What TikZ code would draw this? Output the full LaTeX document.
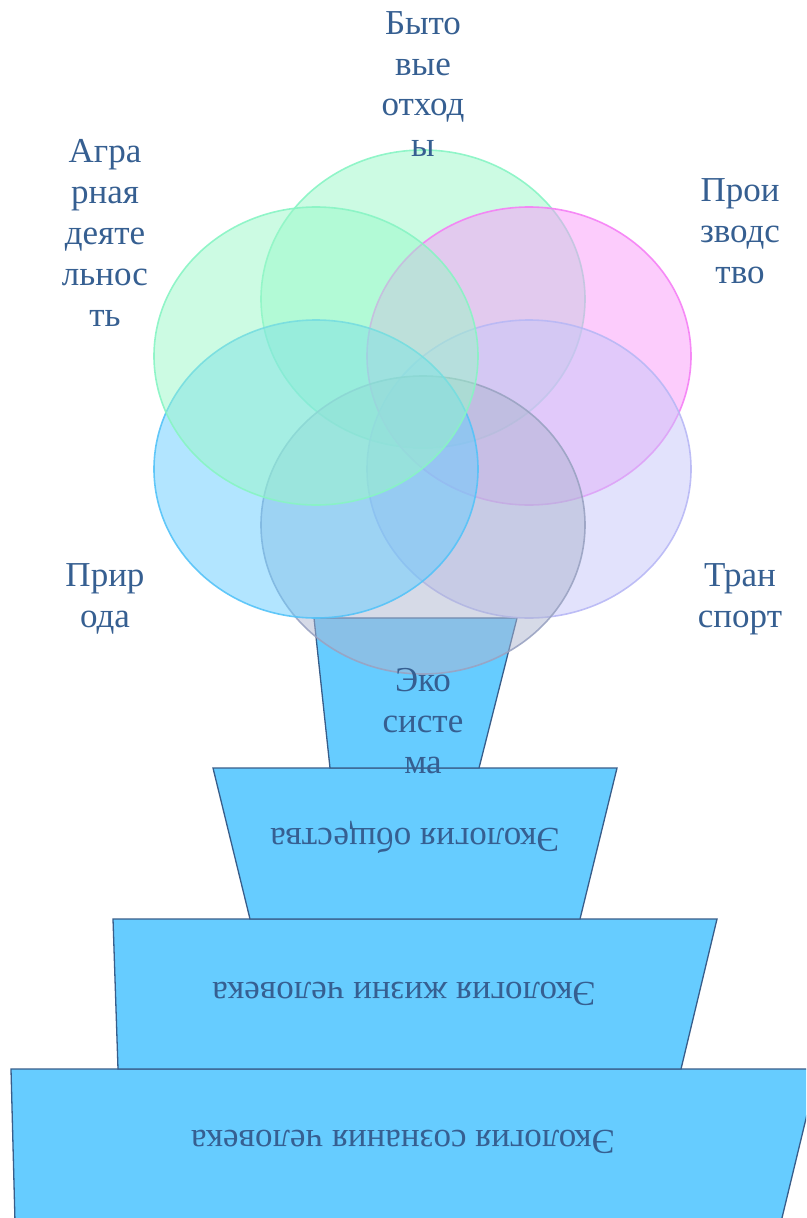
\documentclass[tikz,border=0pt]{standalone}
\usepackage{fontspec}
\setmainfont{Liberation Serif}
\usepackage{tikz}
\usetikzlibrary{shapes.geometric}
\pgfdeclarelayer{edgelayer}
\pgfdeclarelayer{nodelayer}
\pgfsetlayers{edgelayer,nodelayer,main}
\definecolor{inkblue}{HTML}{365F91}
\definecolor{tierfill}{HTML}{66CCFF}
\definecolor{tierline}{HTML}{385D8A}
\definecolor{petalgreen}{HTML}{99F8C8}
\definecolor{petalpink}{HTML}{F999F9}
\definecolor{petallilac}{HTML}{C6C6F9}
\definecolor{petalgrey}{HTML}{ADB5D0}
\definecolor{petalblue}{HTML}{66CCFF}
\definecolor{greenline}{HTML}{88F4C4}
\definecolor{pinkline}{HTML}{F57FF5}
\definecolor{lilacline}{HTML}{B8B8F5}
\definecolor{greyline}{HTML}{9AA3C2}
\definecolor{blueline}{HTML}{55C3F8}
\tikzstyle{none}=[inner sep=0pt]
\tikzstyle{petal}=[ellipse,minimum width=324pt,minimum height=298pt,inner sep=0pt,line width=1.6pt,fill opacity=0.5,draw opacity=0.9]
\tikzstyle{tier}=[fill=tierfill,draw=tierline,line width=1.3pt,line join=miter]
\tikzstyle{leaflabel}=[inner sep=0pt,align=center,text=inkblue,font=\fontsize{35}{40.8}\selectfont]
\tikzstyle{tierlabel}=[inner sep=0pt,rotate=180,text=inkblue,font=\fontsize{35}{40.8}\selectfont]

\begin{document}
\begin{tikzpicture}[x=1pt,y=-1pt]
	\useasboundingbox (0,0) rectangle (806,1218);
	\begin{pgfonlayer}{edgelayer}
		\clip (0,0) rectangle (806,1218);
		\node [style=none] (10) at (314, 618) {};
		\node [style=none] (11) at (517, 618) {};
		\node [style=none] (12) at (479, 768) {};
		\node [style=none] (13) at (330, 768) {};
		\node [style=none] (14) at (213, 768) {};
		\node [style=none] (15) at (617, 768) {};
		\node [style=none] (16) at (580, 919) {};
		\node [style=none] (17) at (250, 919) {};
		\node [style=none] (18) at (113, 919) {};
		\node [style=none] (19) at (717, 919) {};
		\node [style=none] (20) at (681, 1069) {};
		\node [style=none] (21) at (118, 1069) {};
		\node [style=none] (22) at (11, 1069) {};
		\node [style=none] (23) at (818, 1069) {};
		\node [style=none] (24) at (781, 1222) {};
		\node [style=none] (25) at (15, 1222) {};
		\draw [style=tier] (22.center) -- (23.center) -- (24.center) -- (25.center) -- cycle;
		\draw [style=tier] (18.center) -- (19.center) -- (20.center) -- (21.center) -- cycle;
		\draw [style=tier] (14.center) -- (15.center) -- (16.center) -- (17.center) -- cycle;
		\draw [style=tier] (10.center) -- (11.center) -- (12.center) -- (13.center) -- cycle;
	\end{pgfonlayer}
	\begin{pgfonlayer}{nodelayer}
		\node [style=petal, fill=petalgreen, draw=greenline] (0) at (423, 299) {};
		\node [style=petal, fill=petalpink, draw=pinkline] (1) at (529, 356) {};
		\node [style=petal, fill=petallilac, draw=lilacline] (2) at (529, 469) {};
		\node [style=petal, fill=petalgrey, draw=greyline] (3) at (423, 525) {};
		\node [style=petal, fill=petalblue, draw=blueline] (4) at (316, 469) {};
		\node [style=petal, fill=petalgreen, draw=greenline] (5) at (316, 356) {};
	\end{pgfonlayer}
	\node [style=leaflabel] (30) at (423, 84) {Быто\\вые\\отход\\ы};
	\node [style=leaflabel] (31) at (740, 231) {Прои\\зводс\\тво};
	\node [style=leaflabel] (32) at (740, 599) {Тран\\спорт};
	\node [style=leaflabel] (33) at (105, 599) {Прир\\ода};
	\node [style=leaflabel] (34) at (105, 233) {Агра\\рная\\деяте\\льнос\\ть};
	\node [style=leaflabel] (35) at (423, 721) {Эко\\систе\\ма};
	\node [style=tierlabel] (36) at (415, 837) {Экология общества};
	\node [style=tierlabel] (37) at (404, 994) {Экология жизни человека};
	\node [style=tierlabel] (38) at (403, 1142) {Экология сознания человека};
\end{tikzpicture}
\end{document}
